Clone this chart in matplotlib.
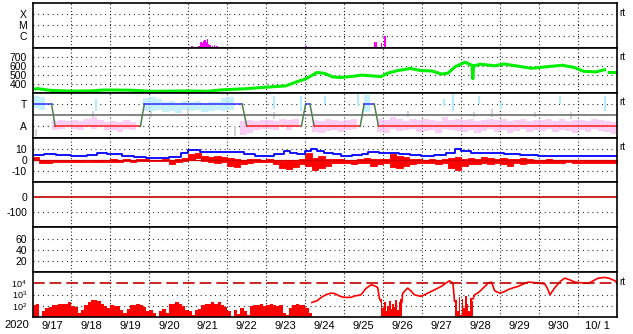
import numpy as np
import matplotlib
matplotlib.use("Agg")
import matplotlib.pyplot as plt

plt.rcParams['font.family'] = ['Liberation Sans', 'DejaVu Sans']
plt.rcParams['font.size'] = 7.5
plt.rcParams['axes.unicode_minus'] = False

# time axis: days since 2020-09-17 00:00
day_labels = ['9/17', '9/18', '9/19', '9/20', '9/21', '9/22', '9/23', '9/24',
              '9/25', '9/26', '9/27', '9/28', '9/29', '9/30', '10/ 1']

# X-ray flux bars (day, log10 flux)
xray_t = [4.10, 4.27, 4.33, 4.37, 4.40, 4.43, 4.46, 4.49, 4.52, 4.55, 4.62, 4.67, 4.74,
          7.02, 8.79, 8.83, 8.96, 9.04]
xray_e = [-6.9, -6.95, -6.6, -6.7, -6.5, -6.35, -6.6, -6.3, -6.75, -6.8, -6.9, -6.85, -6.95,
          -6.9, -6.55, -6.6, -6.7, -6.0]

# solar wind speed (km/s)
sw_t = [0.0, 0.15, 0.3, 0.5, 1.0, 1.5, 1.8, 2.0, 2.5, 2.8, 3.0, 3.5, 4.0, 4.5, 4.8, 5.0,
        5.5, 6.0, 6.5, 6.8, 7.0, 7.2, 7.3, 7.5, 7.7, 7.9, 8.2, 8.45, 8.7, 8.95, 9.1,
        9.35, 9.7, 9.95, 10.25, 10.5, 10.66, 10.85, 11.1, 11.28, 11.3, 11.32, 11.5,
        11.85, 12.1, 12.4, 12.8, 13.25, 13.6, 13.9, 14.15, 14.45, 14.68, 14.72, 14.78,
        14.8, 15.0]
sw_v = [340, 345, 335, 325, 318, 320, 330, 330, 328, 322, 316, 318, 320, 316, 330, 335,
        345, 362, 376, 425, 452, 500, 526, 515, 476, 470, 482, 496, 488, 480, 516,
        545, 570, 548, 542, 508, 518, 590, 640, 605, 455, 600, 618,
        600, 620, 600, 572, 592, 606, 582, 538, 532, 556, np.nan, np.nan,
        526, 524]

# IMF sector: +1 = T(oward), -1 = A(way)
sector_t = [0, 0.49, 0.58, 2.77, 2.87, 5.38, 5.5, 6.9, 7.01, 7.12, 7.23, 8.41, 8.51,
            8.77, 8.88, 15.0]
sector_v = [1, 1, -1, -1, 1, 1, -1, -1, 1, 1, -1, -1, 1, 1, -1, -1]

# IMF angle spread per 4h bin (sector units)
ang_lo = [0.6, 0.5, 0.7, -1.3, -1.2, -1.1,
          -1.2, -1.3, -1.0, -1.2, -1.1, -1.3,
          -1.3, -1.5, -1.2, -1.3, -1.1, 0.4,
          0.4, 0.5, 0.3, 0.4, 0.2, 0.5,
          0.4, 0.5, 0.3, 0.4, 0.5, 0.4,
          0.5, 0.3, -1.8, -1.6, -1.3, -1.2,
          -1.2, -1.3, -1.0, -1.3, -1.1, -1.2,
          0.4, -1.5, -1.6, -1.4, -1.3, -1.5,
          -1.3, -1.2, -1.4, 0.3, 0.4, -1.5,
          -1.6, -1.2, -1.4, -1.3, -1.2, -1.5,
          -1.4, -1.3, -1.6, -1.2, -1.3, -1.4,
          -1.5, -1.3, -1.6, -1.4, -1.2, -1.5,
          -1.3, -1.6, -1.4, -1.2, -1.5, -1.3,
          -1.4, -1.2, -1.5, -1.3, -1.4, -1.6,
          -1.3, -1.5, -1.2, -1.4, -1.5, -1.7]
ang_hi = [1.7, 1.6, 1.5, -0.5, -0.4, -0.5,
          -0.4, -0.5, -0.3, -0.2, -0.4, -0.6,
          -0.5, -0.6, -0.4, -0.6, -0.4, 1.5,
          1.6, 1.4, 1.2, 1.3, 1.1, 1.3,
          1.2, 1.3, 1.1, 1.2, 1.2, 1.5,
          1.6, 1.5, -0.5, -0.4, -0.5, -0.4,
          -0.4, -0.5, -0.3, -0.4, -0.3, -0.3,
          1.7, -0.4, -0.5, -0.3, -0.4, -0.5,
          -0.4, -0.3, -0.5, 1.8, 1.6, -0.3,
          -0.4, -0.2, -0.3, -0.5, -0.3, -0.4,
          -0.3, -0.4, -0.5, -0.2, -0.4, -0.3,
          -0.4, -0.3, -0.5, -0.4, -0.3, -0.4,
          -0.3, -0.5, -0.4, -0.3, -0.5, -0.4,
          -0.4, -0.3, -0.5, -0.3, -0.5, -0.4,
          -0.4, -0.5, -0.3, -0.4, -0.5, -0.6]

# isolated angle spikes (day, lo, hi)
cyan_t = [1.63, 6.2, 6.9, 7.5, 8.35, 10.57, 10.78, 11.46, 12.03, 13.53, 14.7]
cyan_lo = [0.4, 0.55, 0.4, 1.0, 0.85, 0.85, 0.4, 1.0, 0.55, 1.0, 0.4]
cyan_hi = [1.45, 1.75, 1.75, 1.75, 1.9, 1.45, 1.9, 1.75, 1.2, 1.75, 1.75]
grey_t = [0.1, 1.55, 3.05, 4.0, 5.2, 6.2, 9.64, 11.32, 11.78, 12.9, 13.82]
grey_lo = [-1.85, -0.2, -0.2, 0.1, -1.85, -0.35, -0.2, -0.2, -0.2, -0.2, -0.35]
grey_hi = [-1.25, 0.4, 0.4, 0.55, -0.95, 0.25, 0.4, 0.25, 0.55, 0.25, 0.25]

# IMF Bt (nT)
bt_t = [0.0, 0.3, 0.6, 1.0, 1.4, 1.65, 1.9, 2.3, 2.6, 2.9, 3.2, 3.5, 3.8, 4.0, 4.3, 4.65,
        5.0, 5.2, 5.42, 5.7, 5.93, 6.2, 6.45, 6.6, 6.8, 7.0, 7.14, 7.3, 7.48, 7.7, 7.91,
        8.2, 8.45, 8.6, 8.9, 9.12, 9.4, 9.7, 9.97, 10.3, 10.6, 10.83, 11.0, 11.26, 11.6,
        12.1, 12.5, 12.98, 13.4, 13.84, 14.3, 15.0]
bt_v = [4.5, 5, 4.5, 4, 4.5, 6.5, 5, 4, 3, 1.5, 2, 3, 6, 8.5, 7.5, 7,
        7, 7, 5, 4, 3.5, 5, 8, 6, 5, 8, 10, 8, 6, 5, 3.5,
        4.5, 5, 7, 6.5, 6, 5, 4.5, 4, 4.5, 6, 9.5, 8, 6, 6,
        5, 4.5, 4, 4, 3.5, 3.5, 3.5]

# IMF Bz range per 4h bin (nT)
bz_lo = [0, -3, -3, -2, -2, -2,
         -2, -2, -2, -2, -1.5, -2,
         -2, -2, -1, -2, -1, -1,
         -1, -1, -1, -4, -2, -1,
         0, 2, -1, -2, -3, -2,
         -5, -6, -4, -3, -2, -2,
         -2, -4, -7, -8, -6, -4,
         -5, -9, -7, -5, -3, -3,
         -3, -4, -3, -3, -5, -4,
         -3, -6, -7, -5, -4, -3,
         -3, -3, -4, -3, -7, -9,
         -5, -4, -4, -3, -4, -3,
         -4, -5, -3, -4, -3, -3,
         -3, -3, -3, -3, -2, -3,
         -3, -3, -3, -3, -3, -3]
bz_hi = [3, 0, -1, 0, 0, 0,
         0, 0, -0.5, 0, 0, -0.5,
         1, 0, 1, 0, 0.5, 0.5,
         0, 0, 0.5, 0, 0.5, 2,
         5, 6, 4, 3, 4, 3,
         2, 1, 0, 1, 1, 0,
         1, 0, -1, 0, -1, 1,
         6, 2, 4, 1, 1, 1,
         0, -1, 1, 2, 1, 1,
         1, 5, 4, 3, 1, 1,
         0, 1, 0, 1, 2, 3,
         1, 2, 1, 3, 2, 1,
         2, 1, 1, 2, 1, 0,
         0, 1, 0, 0, 0, 0,
         -0.5, 0, 0, 0, 0, 0]

# electron flux, log10 (2h bars, quiet period)
eflux_bars = [2.1, 2.2, 1.0, 1.5, 1.8, 1.9, 2.1, 2.1, 2.2, 2.2, 2.2, 2.3,
              2.0, 1.9, 1.4, 1.6, 2.1, 2.3, 2.5, 2.5, 2.4, 2.2, 2.0, 1.8,
              2.1, 2.0, 2.0, 1.6, 1.4, 1.7, 2.1, 2.1, 2.2, 2.1, 1.9, 1.5,
              1.6, 1.4, 0.0, 1.5, 1.7, 1.4, 2.2, 2.2, 2.3, 2.2, 2.0, 1.6,
              1.5, 1.2, 1.6, 1.7, 2.1, 2.2, 2.2, 2.3, 2.2, 2.3, 2.1, 1.9,
              1.5, 1.0, 1.6, 1.3, 1.8, 1.5, 1.2, 2.0, 2.1, 2.1, 2.2, 2.0,
              2.1, 2.2, 2.1, 2.0, 2.1, 1.4, 1.2, 1.8, 2.1, 2.2, 2.1, 2.1,
              1.8, 1.4]
# noisy dropouts (1h bars)
drop1_start = 8.94
drop1 = [2.6, 1.8, 2.3, 1.5, 2.0, 2.4, 1.7, 2.2, 1.9, 2.5, 1.6, 2.3, 2.6]
drop2_start = 10.85
drop2 = [2.5, 1.5, 2.8, 1.2, 2.6, 1.8, 2.9, 2.2, 1.5, 2.7, 2.4]
eflux_t = [7.17, 7.3, 7.43, 7.54, 7.66, 7.75, 7.9, 8.0, 8.17, 8.26, 8.43, 8.56, 8.69,
           8.73, 8.81, 8.86, 8.9, 8.94, np.nan,
           9.48, 9.5, 9.56, 9.63, 9.72, 9.8, 9.97, 10.1, 10.23, 10.36, 10.49, 10.6,
           10.7, 10.79, 10.83, np.nan,
           11.3, 11.35, 11.45, 11.52, 11.6, 11.69, 11.78, 11.86, 11.99, 12.1, 12.2,
           12.33, 12.46, 12.6, 12.72, 12.85, 12.98, 13.15, 13.22, 13.28, 13.4, 13.55,
           13.66, 13.8, 13.92, 14.1, 14.27, 14.4, 14.52, 14.69, 14.8, 14.95, 15.0]
eflux_e = [2.3, 2.45, 2.8, 3.0, 3.13, 3.1, 2.84, 2.75, 2.75, 2.87, 2.98, 3.55, 3.87,
           3.84, 3.73, 3.6, 2.69, 2.4, np.nan,
           2.3, 3.1, 3.35, 3.58, 3.3, 2.98, 2.84, 3.05, 3.28, 3.5, 3.73, 4.0,
           4.23, 4.02, 2.4, np.nan,
           2.6, 2.98, 3.2, 3.43, 3.7, 4.02, 4.11, 3.34, 3.13, 3.25, 3.43,
           3.6, 3.73, 3.95, 4.11, 4.08, 4.02, 3.95, 3.5, 2.98, 3.6, 4.2,
           4.47, 4.3, 4.11, 4.05, 4.0, 4.25, 4.47, 4.53, 4.45, 4.23, 4.0]

W, H = 633, 334
L, R = 32.5, 617
top0, ph = 3, 44.86

fig = plt.figure(figsize=(W / 100, H / 100), dpi=100)
axes = []
for i in range(7):
    top = top0 + i * ph
    ax = fig.add_axes([L / W, 1 - (top + ph) / H, (R - L) / W, ph / H])
    ax.set_xlim(0, 15)
    ax.set_xticks(np.arange(1, 15))
    ax.set_xticklabels([])
    ax.tick_params(length=0, pad=4)
    for s in ax.spines.values():
        s.set_linewidth(1.2)
    for d in range(1, 15):
        ax.axvline(d, color='black', lw=0.8, ls=(0, (0.8, 2.2)), zorder=0.5)
    axes.append(ax)

dot = dict(color='black', lw=0.8, ls=(0, (0.8, 3.5)), zorder=0.5)

# 1: X-ray
ax = axes[0]
ax.set_yscale('log')
ax.set_ylim(10 ** -7.1, 1e-3)
ax.bar(xray_t, 10 ** np.array(xray_e) - 10 ** -7.1, bottom=10 ** -7.1, width=0.04,
       color='#ff00ff', lw=0)
ax.set_yticks([1e-4, 1e-5, 1e-6])
ax.set_yticklabels(['X', 'M', 'C'])
ax.minorticks_off()
for g in [1e-4, 1e-5, 1e-6]:
    ax.axhline(g, **dot)

# 2: solar wind speed
ax = axes[1]
ax.set_ylim(300, 800)
ax.plot(sw_t, sw_v, color='#00ee00', lw=2.2)
ax.set_yticks([400, 500, 600, 700])
for g in [400, 500, 600, 700]:
    ax.axhline(g, **dot)

# 3: sector
ax = axes[2]
ax.set_ylim(-2, 2)
edges = np.arange(len(ang_lo) + 1) / 6
lo = np.append(ang_lo, ang_lo[-1])
hi = np.append(ang_hi, ang_hi[-1])
pos = (lo + hi) > 0
ax.fill_between(edges, lo, hi, where=np.append(pos[:-1], pos[-2]), step='post',
                color='#b4ecfc', lw=0, alpha=0.75)
ax.fill_between(edges, lo, hi, where=np.append(~pos[:-1], ~pos[-2]), step='post',
                color='#f8c0f2', lw=0, alpha=0.75)
ax.vlines(cyan_t, cyan_lo, cyan_hi, color='#b4ecfc', lw=1.5)
ax.vlines(grey_t, grey_lo, grey_hi, color='#d4d4d4', lw=1.5)
ax.axhline(0, color='#707070', lw=1.2)
for g in [1, -1]:
    ax.axhline(g, **dot)
for i in range(len(sector_t) - 1):
    v0, v1 = sector_v[i], sector_v[i + 1]
    c = ('#3030ff' if v0 > 0 else '#ff2020') if v0 == v1 else '#508050'
    ax.plot(sector_t[i:i + 2], sector_v[i:i + 2], color=c, lw=1.1)
ax.set_yticks([1, -1])
ax.set_yticklabels(['T', 'A'])

# 4: IMF
ax = axes[3]
ax.set_ylim(-20, 20)
lo = np.append(bz_lo, bz_lo[-1])
hi = np.append(bz_hi, bz_hi[-1])
ax.axhline(0, color='#d00000', lw=0.9)
ax.fill_between(edges, lo, hi, step='post', color='#ff0000', lw=0.6, edgecolor='#ff0000')
ax.plot(bt_t, bt_v, color='#0000ff', lw=1.3, drawstyle='steps-post')
ax.set_yticks([10, 0, -10])
for g in [10, -10]:
    ax.axhline(g, **dot)

# 5: Dst
ax = axes[4]
ax.set_ylim(-200, 100)
ax.axhline(0, color='#c00000', lw=1.2)
ax.axhline(-100, **dot)
ax.set_yticks([0, -100])

# 6
ax = axes[5]
ax.set_ylim(0, 80)
ax.set_yticks([60, 40, 20])
for g in [60, 40, 20]:
    ax.axhline(g, **dot)

# 7: electron flux
ax = axes[6]
ax.set_yscale('log')
ax.set_ylim(10, 1e5)
bars = np.array(eflux_bars)
bt = np.arange(len(bars)) / 12
ok = bars > 1
ax.bar(bt[ok], 10 ** bars[ok] - 10, bottom=10, width=1 / 12, align='edge', color='#ff0000', lw=0)
for st, vals in [(drop1_start, drop1), (drop2_start, drop2)]:
    v = np.array(vals)
    ax.bar(st + np.arange(len(v)) / 24, 10 ** v - 10, bottom=10, width=1 / 24,
           align='edge', color='#ff0000', lw=0)
ax.plot(eflux_t, 10 ** np.array(eflux_e), color='#ff0000', lw=1.2)
ax.axhline(1e4, color='#c00000', lw=1.2, ls=(0, (7, 3)))
for g in [1e3, 1e2]:
    ax.axhline(g, **dot)
ax.set_yticks([1e2, 1e3, 1e4])
ax.set_yticklabels([r'$\mathdefault{10^{2}}$', r'$\mathdefault{10^{3}}$', r'$\mathdefault{10^{4}}$'],
                   fontsize=6.5)
ax.minorticks_off()
ax.set_xticks(np.arange(15) + 0.5, minor=True)
ax.set_xticklabels(day_labels, minor=True)
ax.tick_params(axis='x', which='minor', length=0, pad=3, labelsize=8)
fig.text(16.5 / W, 1 - 325.5 / H, '2020', ha='center', va='center', fontsize=8)

for i in [0, 1, 2, 3, 6]:
    fig.text(619 / W, 1 - (top0 + i * ph + 9.5) / H, 'rt', fontsize=7, va='center', ha='left')

fig.savefig('out.png', dpi=100)
